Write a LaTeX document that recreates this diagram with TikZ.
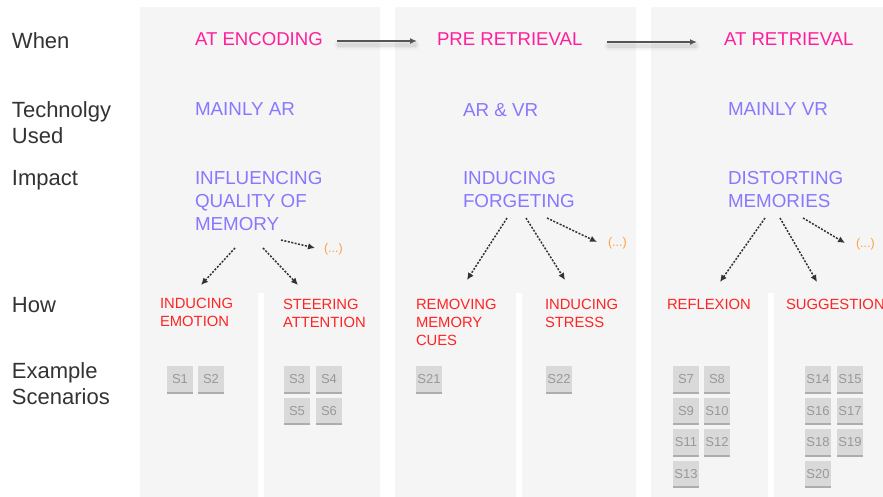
\documentclass[tikz,border=0pt]{standalone}
\usepackage{fontspec}
\setmainfont{Liberation Sans}
\usetikzlibrary{arrows.meta,calc}
\definecolor{panel}{HTML}{F5F5F5}
\definecolor{lbl}{HTML}{333333}
\definecolor{whencol}{HTML}{FF1E9B}
\definecolor{impcol}{HTML}{8878FF}
\definecolor{howcol}{HTML}{FF2424}
\definecolor{etccol}{HTML}{FF9E45}
\definecolor{sfill}{HTML}{D9D9D9}
\definecolor{stext}{HTML}{999999}
\definecolor{sline}{HTML}{ADADAD}
\definecolor{arr}{HTML}{555555}
\definecolor{darr}{HTML}{333333}
\begin{document}
\begin{tikzpicture}[x=1pt,y=-1pt,
 every node/.style={inner sep=0pt, outer sep=0pt},
 rowlabel/.style={anchor=north west, align=left, text=lbl, font=\fontsize{22}{26}\selectfont},
 whentext/.style={anchor=north west, text=whencol, font=\fontsize{18.6}{23.3}\selectfont},
 imptext/.style={anchor=north west, align=left, text=impcol, font=\fontsize{18.8}{23.3}\selectfont},
 howtext/.style={anchor=north west, align=left, text=howcol, font=\fontsize{14.8}{18}\selectfont},
 etctext/.style={anchor=west, text=etccol, font=\fontsize{12.5}{14}\selectfont},
 sbox/.style={minimum width=26pt, minimum height=27pt, fill=sfill, text=stext, font=\fontsize{13}{14}\selectfont,
   path picture={\draw[sline, line width=3pt] (path picture bounding box.south west) -- (path picture bounding box.south east);}},
 flow/.style={arr, line width=1.8pt, -{Latex[length=7pt,width=6pt]}},
 branch/.style={darr, line width=1.5pt, dash pattern=on 2pt off 1.5pt, -{Latex[length=7pt,width=6.5pt]}},
]
\fill[white] (0,0) rectangle (883,497);
\useasboundingbox (0,0) rectangle (883,497);
% panels
\fill[panel] (140,7) rectangle (380,497);
\fill[panel] (395,7) rectangle (636,497);
\fill[panel] (651,7) rectangle (883,497);
\fill[white] (258,293) rectangle (264,497);
\fill[white] (516,293) rectangle (522,497);
\fill[white] (768,293) rectangle (774,497);

% row labels
\node[rowlabel] (lwhen) at (12,33) {When};
\node[rowlabel] (ltech) at (12,101.5) {Technolgy\\Used};
\node[rowlabel] (limp) at (12,170.5) {Impact};
\node[rowlabel] (lhow) at (12,297.5) {How};
\node[rowlabel] (lex) at (12,362.5) {Example\\Scenarios};

% when
\node[whentext] (enc) at (195,33) {AT ENCODING};
\node[whentext] (pre) at (437,33) {PRE RETRIEVAL};
\node[whentext] (atr) at (724,33) {AT RETRIEVAL};

% technology
\node[imptext] (t1) at (195,103) {MAINLY AR};
\node[imptext] (t2) at (463,103) {AR \& VR};
\node[imptext] (t3) at (728,103) {MAINLY VR};

% impact
\node[imptext] (imp1) at (195,171) {INFLUENCING\\QUALITY OF\\MEMORY};
\node[imptext] (imp2) at (463,171) {INDUCING\\FORGETING};
\node[imptext] (imp3) at (728,171) {DISTORTING\\MEMORIES};

% how
\node[howtext] (h1) at (160,298.5) {INDUCING\\EMOTION};
\node[howtext] (h2) at (283,299) {STEERING\\ATTENTION};
\node[howtext] (h3) at (416,299) {REMOVING\\MEMORY\\CUES};
\node[howtext] (h4) at (545,299) {INDUCING\\STRESS};
\node[howtext] (h5) at (667,299) {REFLEXION};
\node[howtext] (h6) at (786,299) {SUGGESTION};

% etc
\node[etctext] (e1) at (324,249) {(...)};
\node[etctext] (e2) at (608,243) {(...)};
\node[etctext] (e3) at (856,244) {(...)};

% flow arrows with soft shadow
\foreach \w/\o in {10/0.025,7/0.035,4/0.05}{
  \draw[black, opacity=\o, line width=\w pt, line cap=round] ($(enc.north west)+(144,12)$) -- ($(pre.north west)+(-22,12)$);
  \draw[black, opacity=\o, line width=\w pt, line cap=round] ($(pre.north west)+(172,13)$) -- ($(atr.north west)+(-29,13)$);
}
\draw[flow] ($(enc.north west)+(142,8)$) -- ($(pre.north west)+(-20,8)$);
\draw[flow] ($(pre.north west)+(170,9)$) -- ($(atr.north west)+(-27,9)$);

% branches
\draw[branch] ($(imp1.north west)+(40,77)$) -- ($(h1.north west)+(41,-13.5)$);
\draw[branch] ($(imp1.north west)+(68,77)$) -- ($(h2.north west)+(15,-14)$);
\draw[branch] ($(imp1.north west)+(86,69)$) -- ($(e1.west)+(-9,-1)$);

\draw[branch] ($(imp2.north west)+(44,47)$) -- ($(h3.north west)+(51,-19)$);
\draw[branch] ($(imp2.north west)+(63,47)$) -- ($(h4.north west)+(20,-19)$);
\draw[branch] ($(imp2.north west)+(84,47)$) -- ($(e2.west)+(-11,-1)$);

\draw[branch] ($(imp3.north west)+(37,47)$) -- ($(h5.north west)+(53,-17)$);
\draw[branch] ($(imp3.north west)+(52,47)$) -- ($(h6.north west)+(31,-17)$);
\draw[branch] ($(imp3.north west)+(75,47)$) -- ($(e3.west)+(-11,-1)$);

% scenario boxes
\node[sbox] (s1) at (180,379.5) {S1};
\node[sbox] (s2) at (211,379.5) {S2};
\node[sbox] (s3) at (297,379.5) {S3};
\node[sbox] (s4) at (329,379.5) {S4};
\node[sbox] (s5) at (297,411) {S5};
\node[sbox] (s6) at (329,411) {S6};
\node[sbox] (s21) at (429,379.5) {S21};
\node[sbox] (s22) at (559,379.5) {S22};
\node[sbox] (s7) at (686,379.5) {S7};
\node[sbox] (s8) at (717,379.5) {S8};
\node[sbox] (s9) at (686,411) {S9};
\node[sbox] (s10) at (717,411) {S10};
\node[sbox] (s11) at (686,442.5) {S11};
\node[sbox] (s12) at (717,442.5) {S12};
\node[sbox] (s13) at (686,474) {S13};
\node[sbox] (s14) at (818,379.5) {S14};
\node[sbox] (s15) at (850,379.5) {S15};
\node[sbox] (s16) at (818,411) {S16};
\node[sbox] (s17) at (850,411) {S17};
\node[sbox] (s18) at (818,442.5) {S18};
\node[sbox] (s19) at (850,442.5) {S19};
\node[sbox] (s20) at (818,474) {S20};
\end{tikzpicture}
\end{document}
